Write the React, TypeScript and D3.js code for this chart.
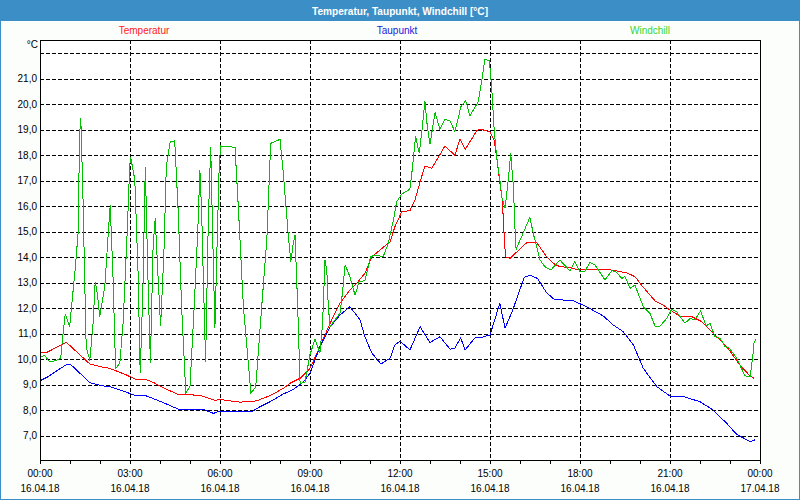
import React from "react";
import * as d3 from "d3";

// hours since 16.04.18 00:00, value in °C
const temperatur: [number, number][] = [
  [0, 10.28], [0.25, 10.28], [0.88, 10.66], [1.66, 9.81], [2.04, 9.7], [2.32, 9.64], [2.6, 9.51],
  [2.88, 9.38], [3.16, 9.22], [3.49, 9.22], [3.77, 9.09], [4.16, 8.85], [4.6, 8.62], [5.33, 8.58],
  [5.83, 8.38], [6.0, 8.42], [6.33, 8.36], [6.67, 8.31], [7.22, 8.36], [7.67, 8.57], [8.11, 8.85],
  [8.33, 9.05], [8.67, 9.25], [9.0, 9.64], [9.33, 10.49], [9.67, 11.41], [10.0, 12.19], [10.33, 12.71],
  [10.56, 12.98], [10.83, 13.37], [11.06, 14.02], [11.33, 14.28], [11.67, 14.61], [11.83, 15.2],
  [12.06, 15.79], [12.33, 15.83], [12.5, 16.25], [12.72, 17.16], [12.83, 17.58], [13.06, 17.49],
  [13.5, 18.37], [13.83, 18.0], [14.0, 18.65], [14.17, 18.23], [14.56, 18.97], [14.67, 19.03],
  [15.0, 18.93], [15.14, 18.6], [15.22, 17.95], [15.33, 16.9], [15.41, 16.25], [15.48, 14.68],
  [15.52, 14.02], [15.67, 13.96], [16.22, 14.57], [16.56, 14.57], [16.89, 14.02], [17.11, 13.76],
  [17.33, 13.63], [17.56, 13.61], [18.0, 13.5], [18.89, 13.53], [19.56, 13.39], [19.83, 13.24],
  [20.11, 12.82], [20.5, 12.29], [20.78, 12.12], [21.0, 11.93], [21.33, 11.69], [21.72, 11.67],
  [22.06, 11.47], [22.44, 11.01], [22.89, 10.49], [23.33, 9.77], [23.67, 9.34], [23.8, 9.25],
];

const taupunkt: [number, number][] = [
  [0, 9.15], [0.27, 9.31], [0.6, 9.57], [0.91, 9.81], [1.04, 9.77], [1.66, 9.08], [2.04, 8.96],
  [2.32, 8.92], [2.6, 8.82], [2.93, 8.68], [3.16, 8.58], [3.49, 8.58], [3.82, 8.43], [4.16, 8.27],
  [4.6, 8.04], [5.44, 8.03], [5.78, 7.87], [6.0, 7.96], [6.33, 7.94], [7.06, 7.94], [7.33, 8.13],
  [7.67, 8.33], [8.11, 8.63], [8.44, 8.81], [8.78, 9.11], [9.0, 9.44], [9.33, 10.49], [9.67, 11.27],
  [10.0, 11.73], [10.33, 12.06], [10.67, 11.54], [10.83, 10.88], [11.06, 10.24], [11.37, 9.81],
  [11.67, 10.04], [11.83, 10.56], [12.0, 10.71], [12.33, 10.36], [12.67, 11.27], [13.0, 10.65],
  [13.33, 10.88], [13.67, 10.39], [13.83, 10.43], [14.02, 10.84], [14.17, 10.36], [14.5, 10.84],
  [14.67, 10.84], [15.0, 10.95], [15.33, 12.2], [15.5, 11.21], [15.75, 11.9], [16.14, 13.21],
  [16.33, 13.3], [16.58, 13.17], [16.89, 12.6], [17.14, 12.35], [17.78, 12.29], [18.22, 12.06],
  [18.78, 11.69], [19.11, 11.34], [19.44, 11.08], [19.78, 10.56], [20.11, 9.64], [20.56, 8.92],
  [21.0, 8.55], [21.44, 8.53], [22.0, 8.33], [22.44, 8.0], [22.89, 7.48], [23.22, 7.05],
  [23.67, 6.76], [23.83, 6.83],
];

const windchill: [number, number][] = [
  [0.02, 10.09], [0.16, 10.14], [0.32, 9.89], [0.54, 9.95], [0.69, 10.04], [0.77, 11.03], [0.84, 11.77],
  [0.99, 11.27], [1.04, 11.93], [1.16, 13.37], [1.27, 14.94], [1.32, 18.8], [1.36, 19.46], [1.43, 16.51],
  [1.49, 13.11], [1.54, 10.49], [1.66, 9.95], [1.77, 11.41], [1.84, 13.04], [1.91, 12.58], [1.99, 11.67],
  [2.16, 12.85], [2.29, 15.2], [2.34, 16.05], [2.43, 13.37], [2.52, 9.63], [2.66, 9.84], [2.77, 11.41],
  [2.91, 15.07], [2.99, 17.56], [3.02, 17.95], [3.16, 17.04], [3.27, 13.37], [3.34, 9.44], [3.43, 12.71],
  [3.51, 17.56], [3.6, 13.11], [3.68, 9.86], [3.77, 14.42], [3.84, 15.53], [3.93, 13.37], [4.02, 11.3],
  [4.13, 14.16], [4.21, 17.56], [4.34, 18.54], [4.49, 18.57], [4.61, 15.73], [4.72, 12.06], [4.86, 8.68],
  [5.0, 8.92], [5.14, 12.06], [5.26, 15.07], [5.33, 17.43], [5.39, 15.73], [5.44, 13.37], [5.52, 9.9],
  [5.61, 15.41], [5.69, 18.34], [5.76, 14.67], [5.83, 11.21], [5.91, 14.81], [5.97, 17.43], [6.02, 18.37],
  [6.5, 18.32], [6.61, 15.99], [6.78, 12.06], [7.03, 8.68], [7.19, 8.89], [7.39, 12.06], [7.56, 14.67],
  [7.69, 18.47], [8.0, 18.63], [8.11, 17.3], [8.28, 14.81], [8.36, 13.83], [8.44, 14.52], [8.5, 14.87],
  [8.59, 12.06], [8.67, 9.05], [8.83, 9.08], [9.0, 10.18], [9.17, 10.79], [9.33, 10.24], [9.42, 11.41],
  [9.5, 13.89], [9.56, 13.5], [9.61, 12.06], [9.67, 11.27], [9.83, 11.54], [10.0, 11.8], [10.08, 12.58],
  [10.17, 13.7], [10.33, 13.24], [10.5, 12.52], [10.64, 13.04], [10.83, 13.08], [11.02, 14.02],
  [11.17, 14.09], [11.44, 14.02], [11.61, 14.55], [11.78, 15.46], [11.89, 16.18], [12.06, 16.48],
  [12.33, 16.67], [12.42, 17.56], [12.52, 18.76], [12.64, 18.08], [12.74, 19.06], [12.83, 20.14],
  [12.91, 19.13], [13.0, 18.45], [13.17, 19.68], [13.33, 19.02], [13.5, 19.42], [13.67, 19.35],
  [13.83, 18.93], [14.03, 19.91], [14.19, 20.15], [14.33, 19.55], [14.61, 20.11], [14.72, 20.89],
  [14.83, 21.77], [14.98, 21.71], [15.06, 20.57], [15.14, 19.0], [15.22, 17.95], [15.33, 17.04],
  [15.39, 16.38], [15.5, 15.92], [15.61, 17.04], [15.69, 18.08], [15.78, 16.77], [15.83, 15.2],
  [15.87, 14.31], [16.33, 15.57], [16.44, 14.94], [16.67, 13.89], [16.83, 13.63], [17.03, 13.5],
  [17.33, 13.89], [17.67, 13.46], [17.83, 13.83], [18.0, 13.42], [18.17, 13.46], [18.33, 13.79],
  [18.5, 13.7], [18.83, 13.11], [19.06, 13.47], [19.2, 13.43], [19.39, 13.17], [19.5, 13.24],
  [19.67, 12.78], [19.83, 12.91], [20.11, 12.06], [20.33, 11.8], [20.5, 11.3], [20.67, 11.3],
  [20.89, 11.6], [21.06, 11.96], [21.22, 11.86], [21.5, 11.41], [21.67, 11.6], [21.83, 11.54],
  [22.02, 11.9], [22.2, 11.3], [22.33, 11.41], [22.5, 10.88], [22.67, 10.82], [22.83, 10.49],
  [22.98, 10.43], [23.22, 10.04], [23.5, 9.34], [23.67, 9.32], [23.76, 10.1], [23.8, 10.62], [23.86, 10.78],
];

const yTicks = [7, 8, 9, 10, 11, 12, 13, 14, 15, 16, 17, 18, 19, 20, 21];
const yGrid = [7, 8, 9, 10, 11, 12, 13, 14, 15, 16, 17, 18, 19, 20, 21, 22];
const xLabels = ["00:00", "03:00", "06:00", "09:00", "12:00", "15:00", "18:00", "21:00", "00:00"];
const xDates = ["16.04.18", "16.04.18", "16.04.18", "16.04.18", "16.04.18", "16.04.18", "16.04.18", "16.04.18", "17.04.18"];

const W = 800;
const H = 500;
const left = 40, right = 760, top = 40, bottom = 460;
const font = "'Liberation Sans', Arial, sans-serif";

export default function App() {
  const x = d3.scaleLinear().domain([0, 24]).range([left, right]);
  const y = d3.scaleLinear().domain([6.04, 22.53]).range([bottom, top]);
  const line = d3
    .line<[number, number]>()
    .x((d) => x(d[0]))
    .y((d) => y(d[1]));

  const hours = d3.range(0, 25);
  const series = [
    { name: "Temperatur", data: temperatur, color: "#ff0000", legend: "#ff2020", lx: 144 },
    { name: "Taupunkt", data: taupunkt, color: "#0000ff", legend: "#2020e0", lx: 397 },
    { name: "Windchill", data: windchill, color: "#00c000", legend: "#33d633", lx: 650 },
  ];

  return (
    <svg
      width={W}
      height={H}
      style={{ position: "absolute", left: 0, top: 0, display: "block" }}
      fontFamily={font}
    >
      <rect x={0} y={0} width={W} height={H} fill="#fcfefc" />
      {/* title bar + border */}
      <rect x={0} y={0} width={W} height={21} fill="#3c8fc6" />
      <rect x={0.5} y={0.5} width={W - 1} height={H - 1} fill="none" stroke="#3c8fc6" />
      <text
        x={400}
        y={15}
        textAnchor="middle"
        fill="#fff"
        fontWeight="bold"
        fontSize={11}
        textLength={176}
        lengthAdjust="spacingAndGlyphs"
      >
        Temperatur, Taupunkt, Windchill [°C]
      </text>

      {/* legend */}
      {series.map((s) => (
        <text key={s.name} x={s.lx} y={34} textAnchor="middle" fill={s.legend} fontSize={10}>
          {s.name}
        </text>
      ))}

      <rect x={left} y={top} width={right - left} height={bottom - top} fill="#fff" />

      {/* grid */}
      <g stroke="#000" strokeDasharray="4,2" shapeRendering="crispEdges">
        {yGrid.map((v) => (
          <line key={"h" + v} x1={left} x2={right} y1={Math.round(y(v)) + 0.5} y2={Math.round(y(v)) + 0.5} />
        ))}
        {d3.range(3, 24, 3).map((h) => (
          <line key={"v" + h} x1={x(h) + 0.5} x2={x(h) + 0.5} y1={top} y2={bottom} />
        ))}
      </g>

      {/* series */}
      <g fill="none" strokeWidth={1} shapeRendering="crispEdges">
        {series.map((s) => (
          <path key={s.name} d={line(s.data) || ""} stroke={s.color} />
        ))}
      </g>

      {/* frame */}
      <rect
        x={left + 0.5}
        y={top + 0.5}
        width={right - left}
        height={bottom - top}
        fill="none"
        stroke="#000"
        shapeRendering="crispEdges"
      />

      {/* x ticks */}
      <g stroke="#000" shapeRendering="crispEdges">
        {hours.map((h) => (
          <line key={"t" + h} x1={x(h) + 0.5} x2={x(h) + 0.5} y1={bottom} y2={bottom + 4} />
        ))}
      </g>

      {/* y labels */}
      <g fontSize={10} fill="#000" textAnchor="end">
        {yTicks.map((v) => (
          <text key={"yl" + v} x={37} y={y(v) + 3.5}>
            {v.toFixed(1).replace(".", ",")}
          </text>
        ))}
        <text x={38} y={48}>°C</text>
      </g>

      {/* x labels */}
      <g fontSize={10} fill="#000" textAnchor="middle">
        {xLabels.map((l, i) => (
          <text key={"xl" + i} x={x(i * 3)} y={477}>
            {l}
          </text>
        ))}
        {xDates.map((l, i) => (
          <text key={"xd" + i} x={x(i * 3)} y={492}>
            {l}
          </text>
        ))}
      </g>
    </svg>
  );
}
